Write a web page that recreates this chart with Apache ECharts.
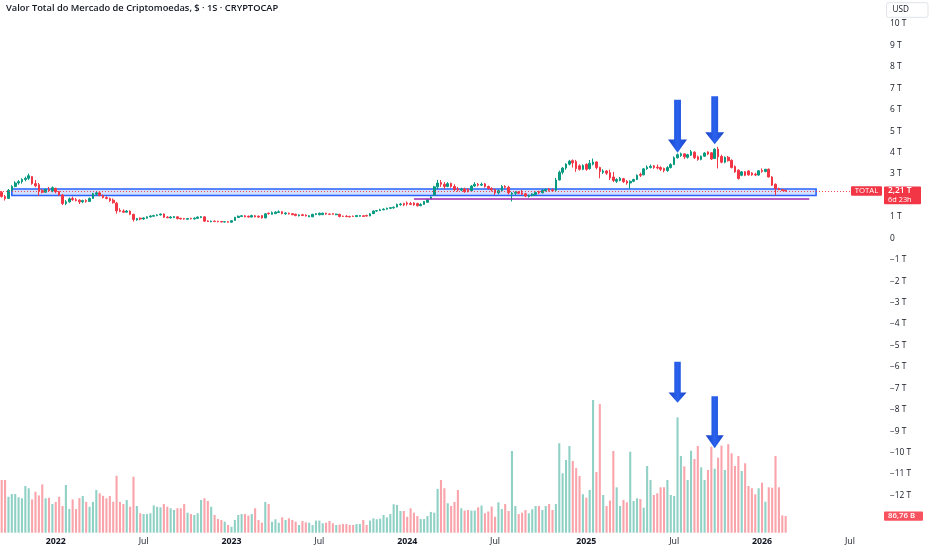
<!DOCTYPE html>
<html>
<head>
<meta charset="utf-8">
<script src="https://cdn.jsdelivr.net/npm/echarts@6/dist/echarts.min.js"></script>
<style>
html,body{margin:0;padding:0;background:#ffffff;}
#c{width:932px;height:550px;}
</style>
</head>
<body>
<div id="c"></div>
<script>
// ---------- DATA (weekly candles, trillions USD; volume in billions) ----------
const firstWeek = '2021-09-13';
const totalSlots = 260;

const opens = [
2.15,1.95,1.86,2.24,2.42,2.58,2.64,2.74,2.80,2.88,
2.55,2.50,2.22,2.15,2.28,2.22,2.33,2.18,2.02,1.62,
1.70,1.86,1.80,1.78,1.70,1.76,1.72,1.86,2.06,2.12,
2.00,1.90,1.86,1.78,1.64,1.30,1.27,1.22,1.27,1.12,
0.86,0.94,0.90,0.94,1.00,1.03,1.06,1.09,1.13,0.99,
0.95,0.97,1.00,0.93,0.92,0.89,0.93,0.90,0.93,0.97,
1.00,0.81,0.77,0.80,0.79,0.78,0.76,0.77,0.75,0.83,
0.97,1.02,1.05,1.03,0.99,1.05,1.03,1.06,0.95,1.17,
1.12,1.15,1.20,1.24,1.14,1.17,1.15,1.12,1.05,1.10,
1.08,1.00,1.00,1.11,1.10,1.10,1.17,1.13,1.15,1.10,
1.12,1.03,1.03,1.02,1.03,1.01,1.03,1.05,1.06,1.04,
1.15,1.27,1.29,1.33,1.36,1.40,1.42,1.46,1.57,1.62,
1.65,1.62,1.65,1.62,1.52,1.58,1.68,1.84,2.02,2.40,
2.60,2.52,2.42,2.56,2.42,2.30,2.25,2.30,2.28,2.22,
2.44,2.52,2.48,2.54,2.42,2.32,2.26,2.12,2.22,2.42,
2.38,2.06,2.10,2.16,2.12,2.08,1.95,2.00,2.04,2.18,
2.12,2.22,2.30,2.26,2.24,2.72,3.08,3.28,3.46,3.62,
3.58,3.38,3.22,3.45,3.25,3.46,3.56,3.30,3.08,3.14,
3.06,2.86,2.66,2.70,2.78,2.66,2.58,2.66,2.74,2.98,
2.96,3.24,3.30,3.38,3.32,3.30,3.26,3.16,3.30,3.44,
3.76,3.86,3.94,3.78,3.88,4.02,3.80,3.68,3.83,4.03,
3.99,3.72,4.16,3.82,3.55,3.78,3.64,3.35,3.18,2.94,
3.10,3.14,3.05,2.99,2.95,3.16,3.12,3.22,2.86,2.52,
2.32,2.27,2.24];

const highs = [
2.20,2.02,2.30,2.48,2.66,2.72,2.80,2.88,3.02,2.90,
2.72,2.58,2.30,2.32,2.40,2.42,2.36,2.20,2.06,1.78,
1.90,1.95,1.88,1.82,1.80,1.82,1.90,2.12,2.20,2.15,
2.04,1.96,1.90,1.86,1.70,1.40,1.35,1.32,1.30,1.14,
0.95,0.97,0.98,1.02,1.08,1.10,1.12,1.16,1.16,1.03,
1.04,1.04,1.03,0.96,0.95,0.95,0.96,0.97,1.02,1.04,
1.03,0.84,0.83,0.83,0.82,0.80,0.79,0.79,0.84,1.00,
1.06,1.08,1.08,1.06,1.10,1.09,1.06,1.08,1.18,1.20,
1.25,1.26,1.30,1.27,1.22,1.20,1.18,1.15,1.12,1.14,
1.12,1.07,1.14,1.18,1.20,1.20,1.19,1.16,1.17,1.15,
1.14,1.06,1.08,1.05,1.06,1.09,1.08,1.07,1.10,1.18,
1.30,1.32,1.38,1.40,1.43,1.46,1.48,1.62,1.65,1.66,
1.72,1.70,1.68,1.66,1.64,1.74,1.84,1.96,2.45,2.72,
2.72,2.62,2.62,2.60,2.52,2.40,2.36,2.36,2.34,2.48,
2.62,2.58,2.60,2.58,2.46,2.38,2.32,2.28,2.48,2.48,
2.45,2.16,2.20,2.20,2.26,2.12,2.04,2.10,2.18,2.22,
2.28,2.32,2.34,2.32,2.82,3.16,3.32,3.50,3.66,3.68,
3.66,3.45,3.45,3.50,3.65,3.72,3.60,3.34,3.22,3.18,
3.20,3.10,2.80,2.86,2.82,2.72,2.70,2.78,2.98,3.06,
3.28,3.40,3.44,3.42,3.44,3.36,3.30,3.36,3.50,3.82,
3.96,4.00,3.96,3.94,4.12,4.06,3.86,3.86,4.02,4.06,
4.02,4.20,4.27,3.90,3.82,3.84,3.68,3.40,3.22,3.14,
3.14,3.18,3.08,3.06,3.18,3.26,3.24,3.26,2.90,2.56,
2.36,2.30,2.26];

const lows = [
1.90,1.76,1.84,2.20,2.38,2.50,2.55,2.66,2.72,2.50,
2.38,1.98,2.10,2.12,2.18,2.15,2.10,1.98,1.55,1.55,
1.66,1.75,1.72,1.60,1.64,1.66,1.70,1.84,2.00,1.96,
1.86,1.82,1.70,1.62,1.15,1.22,1.18,1.20,1.08,0.78,
0.82,0.84,0.86,0.92,0.97,1.00,1.03,1.06,0.96,0.94,
0.93,0.94,0.88,0.88,0.87,0.87,0.88,0.88,0.91,0.94,
0.76,0.76,0.75,0.76,0.75,0.75,0.74,0.74,0.74,0.82,
0.95,0.99,0.98,0.97,0.98,0.98,0.96,0.92,0.94,1.10,
1.10,1.13,1.18,1.12,1.10,1.11,1.08,1.03,1.02,1.04,
1.02,0.99,0.99,1.08,1.07,1.09,1.10,1.09,1.10,1.08,
0.98,1.00,0.99,0.98,1.00,1.00,1.01,1.00,1.01,1.03,
1.14,1.24,1.28,1.31,1.34,1.36,1.38,1.44,1.52,1.50,
1.52,1.55,1.52,1.48,1.50,1.56,1.66,1.82,1.98,2.30,
2.40,2.30,2.38,2.36,2.20,2.18,2.20,2.12,2.14,2.20,
2.40,2.42,2.44,2.36,2.28,2.18,2.02,2.05,2.20,2.32,
2.05,1.72,2.00,2.06,2.02,1.92,1.90,1.96,2.02,2.06,
2.10,2.18,2.18,2.18,2.20,2.70,2.98,3.20,3.40,3.30,
3.10,3.16,3.18,3.15,3.20,3.40,3.22,2.80,3.00,2.96,
2.72,2.62,2.58,2.66,2.58,2.50,2.30,2.62,2.72,2.86,
2.94,3.20,3.26,3.24,3.22,3.14,3.08,3.10,3.26,3.42,
3.72,3.80,3.70,3.72,3.84,3.70,3.62,3.64,3.80,3.88,
3.66,3.70,3.26,3.50,3.50,3.58,3.26,3.06,2.74,2.90,
2.90,2.92,2.92,2.90,2.92,3.06,3.08,2.84,2.44,2.01,
2.24,2.20,2.19];

const closes = [
1.95,1.86,2.24,2.42,2.58,2.64,2.74,2.80,2.92,2.55,
2.45,2.20,2.15,2.28,2.22,2.36,2.18,2.02,1.62,1.70,
1.84,1.80,1.76,1.70,1.76,1.72,1.86,2.08,2.12,2.00,
1.90,1.86,1.76,1.66,1.28,1.26,1.22,1.27,1.12,0.88,
0.92,0.90,0.95,1.00,1.04,1.06,1.09,1.13,0.98,0.96,
0.99,1.01,0.92,0.90,0.90,0.92,0.91,0.94,0.99,1.01,
0.80,0.78,0.80,0.78,0.77,0.76,0.77,0.75,0.82,0.98,
1.03,1.05,1.00,0.99,1.06,1.00,0.99,0.95,1.14,1.15,
1.20,1.22,1.24,1.15,1.18,1.14,1.10,1.06,1.09,1.06,
1.04,1.05,1.12,1.15,1.17,1.17,1.13,1.12,1.12,1.13,
1.02,1.02,1.01,1.00,1.02,1.06,1.06,1.02,1.04,1.14,
1.27,1.29,1.33,1.36,1.40,1.43,1.45,1.58,1.60,1.56,
1.60,1.58,1.56,1.52,1.58,1.72,1.80,1.93,2.40,2.58,
2.52,2.42,2.55,2.42,2.28,2.25,2.30,2.18,2.22,2.44,
2.52,2.48,2.52,2.42,2.32,2.26,2.12,2.22,2.42,2.38,
2.12,2.10,2.14,2.10,2.06,1.97,2.00,2.06,2.14,2.12,
2.24,2.28,2.24,2.22,2.72,3.08,3.28,3.46,3.60,3.52,
3.25,3.22,3.40,3.22,3.50,3.56,3.30,3.12,3.14,3.04,
2.82,2.70,2.74,2.80,2.64,2.58,2.66,2.74,2.94,2.94,
3.24,3.32,3.36,3.30,3.28,3.22,3.16,3.30,3.44,3.76,
3.90,3.94,3.80,3.90,4.04,3.76,3.68,3.83,3.98,3.93,
3.70,4.16,3.80,3.55,3.78,3.62,3.30,3.10,2.79,3.10,
2.94,2.96,2.96,2.95,3.15,3.12,3.22,2.86,2.48,2.32,
2.27,2.23,2.21];

const volumes = [
274,274,187,201,201,184,179,243,231,173,
213,194,251,179,182,149,160,187,139,248,
123,173,123,180,191,160,135,160,222,205,
192,179,191,161,296,160,149,170,135,291,
139,101,97,97,101,142,135,132,149,135,
127,118,127,127,149,104,97,92,101,170,
179,165,135,92,71,66,57,40,31,66,
92,97,97,89,97,127,66,52,160,149,
57,70,52,80,66,75,66,57,40,61,
54,52,40,63,63,49,52,61,49,40,
42,45,45,40,40,45,45,66,40,63,
75,70,73,92,80,97,148,144,113,113,
83,127,104,87,71,71,87,108,104,228,
274,231,153,139,160,222,127,115,118,115,
115,132,141,101,110,136,83,158,123,149,
113,425,139,97,104,118,101,122,139,139,
118,139,149,118,149,465,309,378,451,373,
336,295,200,182,222,690,316,669,196,139,
167,425,236,139,170,158,421,165,179,175,
130,347,274,196,205,236,236,274,196,191,
600,399,345,274,426,383,451,340,274,326,
447,333,390,453,326,460,413,347,399,321,
361,243,231,200,231,260,161,236,234,399,
236,90,86.76];

const tickIndex = [16,42,68,94,120,146,173,199,225,251];
const tickText  = ['2022','Jul','2023','Jul','2024','Jul','2025','Jul','2026','Jul'];

const supportBand = [2.00, 2.30];     // blue zone (T)
const bandRange = [3, 241];           // week slots covered by the zone
const purpleLevel = 1.83;             // purple line (T)
const purpleRange = [122, 239];
const arrowWeeks = [200, 211];
const arrowPriceTips = [3.99, 4.39];
const arrowVolTips = [676, 439];
const arrowPriceLen = [53, 48];
const arrowVolLen = [41, 52];

// ---------- BUILD ----------
const DAY = 86400000;
const t0 = Date.parse(firstWeek + 'T00:00:00Z');
const categories = Array.from({length: totalSlots}, (_, i) =>
  new Date(t0 + i * 7 * DAY).toISOString().slice(0, 10));

const UP = '#089981', DOWN = '#f23645';
const UPV = 'rgba(8,153,129,0.45)', DOWNV = 'rgba(242,54,69,0.45)';
const FONT = '"Open Sans", "Noto Sans", sans-serif';
const TXT = '#131722';

const candleData = opens.map((o, i) => [o, closes[i], lows[i], highs[i]]);
const volData = volumes.map((v, i) => ({
  value: v,
  itemStyle: { color: closes[i] >= opens[i] ? UPV : DOWNV }
}));

const ARROW = 'path://M32,0 L68,0 L68,75 L100,75 L50,100 L0,75 L32,75 Z';
const ARROW_COLOR = {
  type: 'linear', x: 0, y: 0, x2: 1, y2: 0,
  colorStops: [{offset: 0, color: '#1a44c8'}, {offset: 0.5, color: '#2a62ee'}, {offset: 1, color: '#1a44c8'}]
};

const L = -1.79, R = 53.4;

const chart = echarts.init(document.getElementById('c'), null, {renderer: 'canvas'});

const option = {
  animation: false,
  backgroundColor: '#ffffff',
  textStyle: { fontFamily: FONT },
  grid: [
    { left: L, right: R, top: 2.57, bottom: 11.7 },
    { left: L, right: R, top: 232.7, bottom: 17.3 }
  ],
  xAxis: [
    { type: 'category', gridIndex: 0, data: categories, boundaryGap: true,
      axisLine: {show: false}, axisTick: {show: false}, axisLabel: {show: false}, splitLine: {show: false} },
    { type: 'category', gridIndex: 1, data: categories, boundaryGap: true,
      axisLine: {show: false}, axisTick: {show: false}, splitLine: {show: false},
      axisLabel: {
        interval: (i) => tickIndex.includes(i),
        hideOverlap: false,
        margin: 4,
        formatter: (v, i) => {
          const k = tickIndex.indexOf(i);
          if (k < 0) return '';
          const t = tickText[k];
          return /^\d/.test(t) ? '{y|' + t + '}' : '{m|' + t + '}';
        },
        rich: {
          y: { fontSize: 8.8, fontWeight: 'bold', color: TXT, fontFamily: FONT },
          m: { fontSize: 8.8, color: TXT, fontFamily: FONT }
        }
      } }
  ],
  yAxis: [
    { type: 'value', gridIndex: 0, position: 'right', min: -14, max: 11, interval: 1,
      axisLine: {show: false}, axisTick: {show: false}, splitLine: {show: false},
      axisLabel: {
        align: 'left', margin: 11.4, fontSize: 8.4, color: TXT, fontFamily: FONT,
        formatter: (v) => {
          if (v > 10 || v < -12) return '';
          if (v === 0) return '0';
          return (v < 0 ? '\u2212' : '') + Math.abs(v) + ' T';
        }
      } },
    { type: 'value', gridIndex: 1, min: 0, max: 1560, show: false }
  ],
  series: [
    {
      type: 'candlestick', xAxisIndex: 0, yAxisIndex: 0,
      data: candleData, barWidth: '62%',
      itemStyle: { color: UP, color0: DOWN, borderColor: UP, borderColor0: DOWN, borderWidth: 1 },
      markArea: {
        silent: true,
        label: {show: false},
        itemStyle: { color: 'rgba(41,98,255,0.2)', borderColor: '#2962ff', borderWidth: 1.6 },
        data: [[
          { coord: [categories[bandRange[0]], supportBand[1]] },
          { coord: [categories[bandRange[1]], supportBand[0]] }
        ]]
      },
      markLine: {
        silent: true, symbol: ['none', 'none'], label: {show: false},
        data: [
          { yAxis: closes[closes.length - 1],
            lineStyle: { type: [1, 2], color: DOWN, width: 1, opacity: 0.9 } },
          [
            { coord: [categories[purpleRange[0]], purpleLevel],
              lineStyle: { type: 'solid', color: '#9c27b0', width: 1.6 } },
            { coord: [categories[purpleRange[1]], purpleLevel] }
          ]
        ]
      },
      markPoint: {
        silent: true, label: {show: false},
        itemStyle: { color: ARROW_COLOR },
        data: arrowWeeks.map((w, k) => ({
          coord: [categories[w], arrowPriceTips[k]],
          symbol: ARROW, symbolSize: [19, arrowPriceLen[k]], symbolOffset: [0, '-50%']
        }))
      }
    },
    {
      type: 'bar', xAxisIndex: 1, yAxisIndex: 1,
      data: volData, barWidth: '62%',
      markPoint: {
        silent: true, label: {show: false},
        itemStyle: { color: ARROW_COLOR },
        data: arrowWeeks.map((w, k) => ({
          coord: [categories[w], arrowVolTips[k]],
          symbol: ARROW, symbolSize: [18, arrowVolLen[k]], symbolOffset: [0, '-50%']
        }))
      }
    }
  ]
};
chart.setOption(option);

// ---------- overlay labels ----------
const lastClose = closes[closes.length - 1];
const lastVol = volumes[volumes.length - 1];
const yP = chart.convertToPixel({yAxisIndex: 0}, lastClose);
const yV = chart.convertToPixel({yAxisIndex: 1}, lastVol);
const priceStr = lastClose.toFixed(2).replace('.', ',') + ' T';
const volStr = lastVol.toFixed(2).replace('.', ',') + ' B';

chart.setOption({
  graphic: [
    { type: 'text', left: 6, top: 4, z: 100,
      style: { text: 'Valor Total do Mercado de Criptomoedas, $ \u00b7 1S \u00b7 CRYPTOCAP',
               fill: TXT, fontSize: 9.3, fontWeight: 600, fontFamily: FONT } },
    { type: 'rect', z: 100, shape: { x: 886.5, y: 2.7, width: 41.5, height: 14.6, r: 2 },
      style: { fill: '#ffffff', stroke: '#e0e3eb', lineWidth: 1 } },
    { type: 'text', z: 101, style: { text: 'USD', x: 892.5, y: 10, fill: TXT, fontSize: 8.2,
      fontFamily: FONT, verticalAlign: 'middle', align: 'left' } },
    { type: 'rect', z: 100, shape: { x: 851, y: yP - 4.7, width: 31, height: 9.5, r: 1 },
      style: { fill: DOWN } },
    { type: 'text', z: 101, style: { text: 'TOTAL', x: 866.5, y: yP, fill: '#ffffff', fontSize: 7.8,
      fontFamily: FONT, align: 'center', verticalAlign: 'middle' } },
    { type: 'rect', z: 100, shape: { x: 884, y: yP - 4.4, width: 37, height: 17.6, r: 1 },
      style: { fill: DOWN } },
    { type: 'text', z: 101, style: { text: priceStr, x: 888, y: yP, fill: '#ffffff', fontSize: 8.4,
      fontWeight: 600, fontFamily: FONT, align: 'left', verticalAlign: 'middle' } },
    { type: 'text', z: 101, style: { text: '6d 23h', x: 888, y: yP + 8.6, fill: '#ffffff', fontSize: 7.4,
      fontFamily: FONT, align: 'left', verticalAlign: 'middle' } },
    { type: 'rect', z: 100, shape: { x: 884, y: yV - 4.6, width: 39, height: 9.4, r: 1 },
      style: { fill: '#f7525f' } },
    { type: 'text', z: 101, style: { text: volStr, x: 888, y: yV, fill: '#ffffff', fontSize: 7.8,
      fontWeight: 600, fontFamily: FONT, align: 'left', verticalAlign: 'middle' } }
  ]
});
</script>
</body>
</html>
